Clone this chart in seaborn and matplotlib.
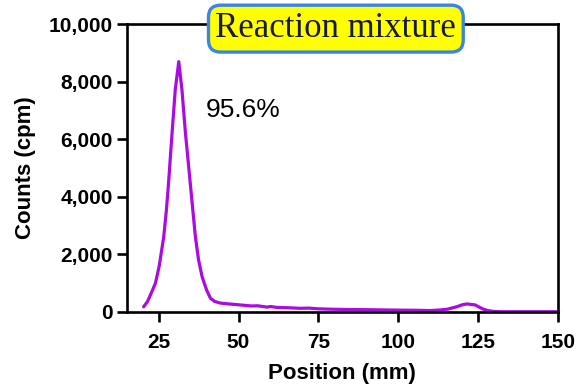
import matplotlib
matplotlib.use("Agg")
import matplotlib.pyplot as plt
import seaborn as sns
import pandas as pd

# Radio-TLC scan of the reaction mixture
position_mm = [20.3, 21.5, 22.5, 24.0, 25.2, 26.6, 27.4, 28.1, 29.2, 30.2, 31.3,
               32.3, 33.4, 34.9, 36.5, 37.5, 38.6, 40.0, 41.2, 42.5, 44.3, 47.0,
               50.6, 54.0, 56.0, 58.9, 60.0, 62.0, 65.0, 69.4, 72.0, 75.0, 79.8,
               85.0, 90.0, 96.5, 100.0, 105.0, 110.0, 113.0, 115.3, 118.4, 120.0,
               121.5, 123.0, 124.1, 125.5, 126.7, 128.0, 129.8, 132.0, 140.0, 150.0]
counts_cpm = [170, 350, 600, 990, 1600, 2610, 3500, 4470, 6210, 7720, 8700,
              7720, 6210, 4470, 2610, 1800, 1220, 760, 470, 360, 300, 270,
              235, 200, 205, 160, 180, 150, 140, 118, 125, 100, 85,
              75, 70, 60, 55, 50, 40, 60, 85, 175, 240,
              270, 250, 235, 150, 85, 40, 10, 0, 0, 0]
peak_label = "95.6%"
title = "Reaction mixture"

df = pd.DataFrame({"Position (mm)": position_mm, "Counts (cpm)": counts_cpm})

sns.set_style("ticks")
plt.rcParams["font.family"] = ["Liberation Sans", "DejaVu Sans"]
plt.rcParams["text.color"] = "black"
plt.rcParams["axes.labelcolor"] = "black"
plt.rcParams["xtick.color"] = "black"
plt.rcParams["ytick.color"] = "black"

fig = plt.figure(figsize=(5.79, 3.89), dpi=100)
ax = fig.add_axes([0.2188, 0.1987, 0.7449, 0.7388])

sns.lineplot(data=df, x="Position (mm)", y="Counts (cpm)", ax=ax,
             color="#a90be0", linewidth=2.3, estimator=None, sort=False)

ax.set_xlim(15, 150)
ax.set_ylim(0, 10000)
ax.set_xticks([25, 50, 75, 100, 125, 150])
ax.set_yticks([0, 2000, 4000, 6000, 8000, 10000])
ax.set_yticklabels([f"{v:,}" for v in [0, 2000, 4000, 6000, 8000, 10000]])

for s in ax.spines.values():
    s.set_linewidth(1.9)
    s.set_color("black")
    s.set_visible(True)
ax.tick_params(axis="both", length=7, width=1.9, color="black",
               labelsize=15, pad=3, labelcolor="black")
ax.tick_params(axis="x", pad=8)
for lab in ax.get_xticklabels() + ax.get_yticklabels():
    lab.set_fontweight("bold")

ax.set_xlabel("Position (mm)", fontsize=16, fontweight="bold", labelpad=8,
              color="black")
ax.set_ylabel("Counts (cpm)", fontsize=16, fontweight="bold", labelpad=9,
              color="black")

ax.text(39.6, 6780, peak_label, fontsize=19, ha="left", va="baseline",
        color="black")

ax.text(0.485, 0.985, title, transform=ax.transAxes, ha="center", va="center",
        fontsize=25, family=["Liberation Serif", "DejaVu Serif"], color="#1a1a3a",
        bbox=dict(boxstyle="round,pad=0.2,rounding_size=0.35",
                  facecolor="#ffff00", edgecolor="#3a84e6", linewidth=2.4),
        zorder=5, clip_on=False)

fig.savefig("out.png", dpi=100)
